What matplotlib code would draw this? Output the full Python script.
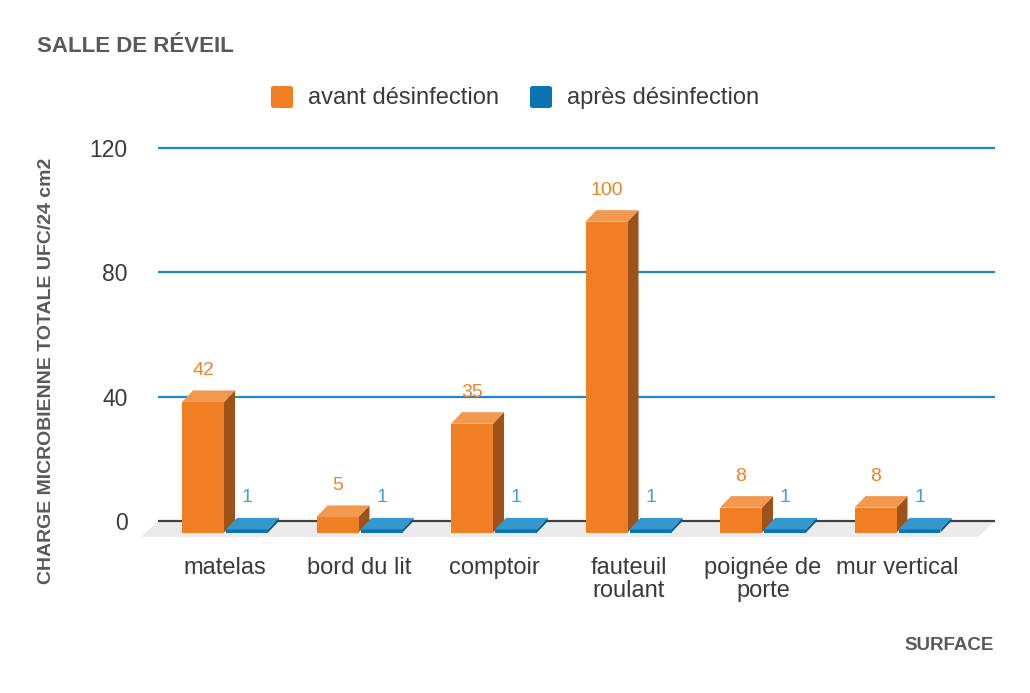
import matplotlib
matplotlib.use("Agg")
import matplotlib.pyplot as plt
from matplotlib.patches import Polygon, FancyBboxPatch

plt.rcParams['font.family'] = ['Liberation Sans', 'DejaVu Sans']

# ---- data ----
categories = ["matelas", "bord du lit", "comptoir", "fauteuil\nroulant", "poignée de\nporte", "mur vertical"]
avant = [42, 5, 35, 100, 8, 8]
apres = [1, 1, 1, 1, 1, 1]
series_names = ["avant désinfection", "après désinfection"]
yticks = [0, 40, 80, 120]

title = "SALLE DE RÉVEIL"
ylabel = "CHARGE MICROBIENNE TOTALE UFC/24 cm2"
xlabel = "SURFACE"

# ---- style ----
W, H = 1030, 693
ORANGE = dict(front="#EF7F22", top="#F2984F", side="#9C5218", label="#F08326")
BLUE = dict(front="#0B74B4", top="#3498CC", side="#0A5987", label="#4A9FDB")
GRID = "#1E88C8"
TXT = "#3A3A3A"
GREY_T = "#595959"

fig = plt.figure(figsize=(W / 100, H / 100), dpi=100)

# axes placement in pixels
px_left, px_right = 158, 995
ylo, yhi = -8, 122
px_per_unit = (521 - 148) / 120.0
px_bottom = 521 + (0 - ylo) * px_per_unit
px_top = 521 - (yhi - 0) * px_per_unit
ax = fig.add_axes([px_left / W, 1 - px_bottom / H, (px_right - px_left) / W, (px_bottom - px_top) / H])

spacing_px = 134.5
first_center_px = 225
xlo = (px_left - first_center_px) / spacing_px
xhi = (px_right - first_center_px) / spacing_px
ax.set_xlim(xlo, xhi)
ax.set_ylim(ylo, yhi)
for s in ax.spines.values():
    s.set_visible(False)

# depth offset (px) -> data units
dpx, dpy = 11, 11.5
ox = dpx / spacing_px
oy = dpy / px_per_unit

# floor
fdx, fdy = 17 / spacing_px, 16 / px_per_unit
floor = Polygon([(xlo, 0), (xhi, 0), (xhi - fdx, -fdy), (xlo - fdx, -fdy)],
                closed=True, facecolor="#EBEBEB", edgecolor="none", clip_on=False, zorder=1)
ax.add_patch(floor)

# gridlines
for t in yticks:
    ax.axhline(t, color=("#404040" if t == 0 else GRID), lw=1.6, zorder=2)

# bars
bar_w = 42 / spacing_px
gap = 1 / spacing_px


def bar3d(f0, v, c, z):
    f1 = f0 + bar_w
    front = Polygon([(f0, -oy), (f1, -oy), (f1, v - oy), (f0, v - oy)], closed=True,
                    facecolor=c["front"], edgecolor="none", clip_on=False, zorder=z)
    top = Polygon([(f0, v - oy), (f1, v - oy), (f1 + ox, v), (f0 + ox, v)], closed=True,
                  facecolor=c["top"], edgecolor="none", clip_on=False, zorder=z)
    side = Polygon([(f1, -oy), (f1 + ox, 0), (f1 + ox, v), (f1, v - oy)], closed=True,
                   facecolor=c["side"], edgecolor="none", clip_on=False, zorder=z)
    for p in (side, front, top):
        ax.add_patch(p)
    ax.text(f0 + bar_w / 2, v + 20 / px_per_unit, str(v), ha="center", va="center",
            fontsize=14, color=c["label"], zorder=z + 1)


for i in range(len(categories)):
    bar3d(i - gap - bar_w, avant[i], ORANGE, 3)
    bar3d(i + gap, apres[i], BLUE, 4)

# ticks
ax.set_yticks(yticks)
ax.set_yticklabels([str(t) for t in yticks], fontsize=16.5, color=TXT)
ax.set_xticks(range(len(categories)))
ax.set_xticklabels(categories, fontsize=17, color=TXT, linespacing=1.05)
ax.tick_params(axis="y", length=0, pad=22)
ax.tick_params(axis="x", length=0, pad=8)

# titles
fig.text(37 / W, 1 - 47 / H, title, fontsize=16, fontweight="bold", color=GREY_T, ha="left", va="center")
fig.text(47 / W, 1 - 371 / H, ylabel, fontsize=14, fontweight="bold", color=GREY_T,
         rotation=90, ha="center", va="center")
fig.text(994 / W, 1 - 645 / H, xlabel, fontsize=13.5, fontweight="bold", color=GREY_T, ha="right", va="center")

# legend
leg = [(271, ORANGE["front"], series_names[0]), (530, BLUE["front"], series_names[1])]
for x0, col, name in leg:
    sq = FancyBboxPatch((x0 / W, 1 - 108 / H), 22 / W, 22 / H,
                        boxstyle="round,pad=0,rounding_size=0.003", transform=fig.transFigure,
                        facecolor=col, edgecolor="none")
    fig.patches.append(sq)
    fig.text((x0 + 37) / W, 1 - 98 / H, name, fontsize=17, color=TXT, ha="left", va="center")

fig.savefig("out.png", dpi=100)
